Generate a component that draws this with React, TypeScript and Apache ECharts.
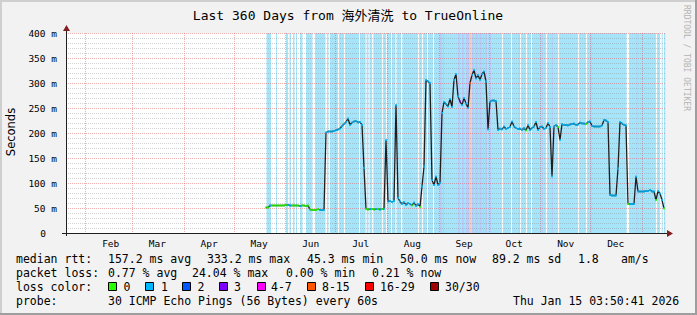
import React, { useEffect, useRef } from "react";
import * as echarts from "echarts";

// ---- time frame ----
const DAY = 86400000;
const END_TIME = Date.UTC(2026, 0, 15, 3, 50, 41);
const SPAN_DAYS = 360;
const START_TIME = END_TIME - SPAN_DAYS * DAY;
const DATA_START_DAY = 120; // days after START_TIME of first sample
const DATA_STEP_DAYS = 1.2;

// ---- median rtt (ms), one value per step ----
const medianRtt = [
  51, 51, 55, 55, 55, 55, 55, 55, 55, 55,
  56, 56, 55, 55, 55, 55, 55, 54, 55, 55,
  54, 55, 47, 46, 46, 46, 48, 46, 46, 46,
  201, 203, 203, 203, 204, 206, 207, 209, 214, 218,
  222, 229, 216, 221, 223, 224, 221, 222, 216, 130,
  48, 47, 48, 48, 47, 48, 48, 47, 48, 48,
  186, 63, 64, 62, 64, 256, 70, 63, 58, 62,
  56, 60, 58, 55, 61, 54, 58, 52, 93, 133,
  306, 303, 300, 106, 96, 113, 96, 100, 240, 262,
  258, 253, 268, 252, 306, 318, 273, 263, 256, 270,
  259, 250, 300, 316, 326, 309, 316, 306, 318, 323,
  303, 207, 263, 265, 265, 264, 206, 209, 207, 213,
  208, 210, 212, 223, 213, 210, 208, 209, 206, 210,
  205, 216, 206, 210, 213, 222, 206, 212, 213, 208,
  210, 220, 212, 113, 213, 216, 212, 186, 218, 216,
  216, 215, 217, 218, 219, 216, 217, 221, 219, 219,
  218, 222, 223, 214, 213, 213, 213, 213, 215, 226,
  225, 222, 76, 75, 75, 75, 129, 222, 219, 216,
  215, 58, 58, 58, 58, 113, 83, 83, 83, 83,
  84, 84, 86, 83, 83, 66, 84, 79, 66, 49,
];

// ---- packets lost (of 30) per step ----
const medianLoss = [
  0, 0, 1, 0, 0, 0, 0, 0, 0, 0,
  0, 1, 1, 0, 0, 0, 0, 1, 0, 0,
  0, 0, 0, 0, 0, 0, 0, 1, 1, 1,
  1, 1, 1, 1, 1, 1, 1, 1, 1, 1,
  1, 1, 1, 1, 1, 1, 1, 1, 1, 1,
  0, 0, 1, 0, 0, 1, 0, 1, 0, 1,
  1, 1, 1, 1, 1, 1, 1, 1, 1, 1,
  1, 1, 1, 0, 1, 1, 1, 0, 1, 1,
  1, 1, 1, 1, 1, 1, 1, 1, 1, 1,
  1, 1, 1, 1, 1, 1, 1, 3, 1, 1,
  1, 1, 8, 1, 1, 1, 1, 1, 1, 1,
  1, 1, 1, 1, 1, 1, 1, 1, 1, 1,
  1, 1, 1, 1, 1, 1, 1, 1, 1, 1,
  0, 1, 1, 1, 1, 1, 1, 1, 1, 1,
  1, 1, 1, 1, 1, 1, 0, 1, 1, 1,
  1, 1, 1, 1, 1, 1, 1, 1, 1, 1,
  0, 1, 1, 1, 1, 1, 1, 1, 1, 1,
  1, 1, 1, 1, 1, 1, 1, 1, 1, 1,
  1, 0, 1, 1, 1, 1, 1, 1, 1, 1,
  1, 1, 1, 1, 1, 0, 1, 1, 1, 0,
];

// ---- loss background periods (days after START_TIME), drawn in order ----
const bgFromDay = [
  120.3, 126.0, 132.0, 134.1, 136.2, 138.0, 140.4, 144.0, 149.4, 156.6, 158.4,
  163.2, 166.8, 175.8, 179.8, 181.5, 183.6, 189.6, 192.0, 195.0, 197.7, 201.0,
  211.2, 213.6, 216.6, 220.2, 261.6, 267.0, 272.4, 276.0, 279.0, 288.0, 295.2,
  307.2, 312.0, 336.4, 354.0, 356.4, 358.0,
  224.4, 226.2, 235.2, 237.6, 240.0, 242.4, 243.6, 245.4, 247.8, 250.2, 251.4,
  254.4, 271.8, 285.4, 291.4, 314.8, 342.3,
];
const bgToDay = [
  123.0, 126.6, 133.2, 135.0, 137.1, 138.6, 141.9, 147.9, 155.7, 157.5, 359.7,
  163.8, 167.4, 176.4, 180.4, 182.1, 184.4, 190.2, 192.6, 195.6, 198.3, 201.8,
  211.8, 214.2, 217.2, 220.8, 262.2, 267.6, 273.0, 276.6, 279.6, 288.6, 295.8,
  307.8, 312.6, 337.8, 354.6, 357.4, 358.8,
  225.6, 226.8, 236.4, 238.8, 241.8, 243.6, 244.8, 247.2, 249.6, 250.8, 252.6,
  255.0, 272.4, 286.0, 292.0, 315.4, 342.9,
];
const bgLoss = [
  1, 1, 1, 1, 1, 1, 1, 1, 1, 1, 1,
  0, 0, 0, 0, 0, 0, 0, 0, 0, 0, 0,
  0, 0, 0, 0, 0, 0, 0, 0, 0, 0, 0,
  0, 0, 0, 0, 0, 0,
  3, 3, 3, 3, 3, 8, 3, 3, 3, 3, 3,
  3, 3, 3, 3, 3, 3,
];

// ---- axis labels ----
const monthNames = ["Jan", "Feb", "Mar", "Apr", "May", "Jun", "Jul", "Aug", "Sep", "Oct", "Nov", "Dec"];
const gridMonths: [number, number][] = [
  [2025, 1], [2025, 2], [2025, 3], [2025, 4], [2025, 5], [2025, 6],
  [2025, 7], [2025, 8], [2025, 9], [2025, 10], [2025, 11], [2026, 0],
];
const labelMonths: [number, number][] = gridMonths.slice(0, 11);

// ---- legend texts ----
const rttStats = ["157.2 ms avg", "333.2 ms max", "45.3 ms min", "50.0 ms now", "89.2 ms sd", "1.8", "am/s"];
const lossStats = ["0.77 % avg", "24.04 % max", "0.00 % min", "0.21 % now"];
const lossLegend = ["0", "1", "2", "3", "4-7", "8-15", "16-29", "30/30"];
const lossLegendColors = ["#26ff00", "#00b8ff", "#0059ff", "#7e00ff", "#ff00ff", "#ff5500", "#ff0000", "#a10000"];

const lineColor = (l: number) =>
  l === 0 ? "#26ff00" : l === 1 ? "#00b8ff" : l === 2 ? "#0059ff" : l <= 3 ? "#7e00ff" : l <= 7 ? "#ff00ff" : l <= 15 ? "#ff5500" : "#ff0000";
const bgColor = (l: number) =>
  l === 0 ? "#ffffff" : l === 1 ? "#a6e4fa" : l <= 3 ? "#bccafb" : "#f3cdbd";

const MONO = "'DejaVu Sans Mono', 'Noto Sans CJK SC', monospace";

export default function App() {
  const ref = useRef<HTMLDivElement>(null);
  useEffect(() => {
    if (!ref.current) return;
    const chart = echarts.init(ref.current, undefined, { renderer: "svg" });
    const L = 66, T = 33, W = 600, H = 200;
    const times = medianRtt.map((_, i) => START_TIME + (DATA_START_DAY + DATA_STEP_DAYS * i) * DAY);
    const half = (DATA_STEP_DAYS / 2) * DAY;

    const graphics: any[] = [
      { type: "rect", shape: { x: 0, y: 0, width: 697, height: 2 }, style: { fill: "#cfcfcf" }, z: 100 },
      { type: "rect", shape: { x: 0, y: 0, width: 2, height: 315 }, style: { fill: "#cfcfcf" }, z: 100 },
      { type: "rect", shape: { x: 695, y: 0, width: 2, height: 315 }, style: { fill: "#9e9e9e" }, z: 100 },
      { type: "rect", shape: { x: 0, y: 313, width: 697, height: 2 }, style: { fill: "#9e9e9e" }, z: 100 },
      { type: "line", shape: { x1: L - 4, y1: T + H + 0.5, x2: L + W + 2, y2: T + H + 0.5 }, style: { stroke: "#1f1f1f", lineWidth: 1 }, z: 100 },
      { type: "polygon", shape: { points: [[L + W + 1, T + H - 3], [L + W + 7, T + H + 0.5], [L + W + 1, T + H + 4]] }, style: { fill: "#801f1f" }, z: 100 },
      { type: "line", shape: { x1: L + 0.5, y1: T + H + 3, x2: L + 0.5, y2: T - 2 }, style: { stroke: "#1f1f1f", lineWidth: 1 }, z: 100 },
      { type: "polygon", shape: { points: [[L - 3, T - 2], [L + 0.5, T - 8], [L + 4, T - 2]] }, style: { fill: "#801f1f" }, z: 100 },
      { type: "text", x: 348, y: 15, style: { text: "Last 360 Days from 海外清洗 to TrueOnline", font: `13px ${MONO}`, fill: "#000", align: "center", verticalAlign: "middle" }, z: 100 },
      { type: "text", x: 10.5, y: 132, rotation: Math.PI / 2, style: { text: "Seconds", font: "11.5px 'DejaVu Sans', sans-serif", fill: "#000", align: "center", verticalAlign: "middle" }, z: 100 },
      { type: "text", x: 686, y: 5, rotation: -Math.PI / 2, style: { text: "RRDTOOL / TOBI OETIKER", font: `8px ${MONO}`, fill: "#b4b4b4", align: "left", verticalAlign: "middle" }, z: 100 },
    ];
    const txt = (s: string, x: number, y: number) => ({
      type: "text", x, y, z: 100,
      style: { text: s, font: `11.5px ${MONO}`, fill: "#000", align: "left", verticalAlign: "middle" },
    });
    const r1 = 259, r2 = 273, r3 = 287, r4 = 301;
    graphics.push(txt("median rtt:", 16, r1));
    [108, 207, 307, 400, 492, 578, 621].forEach((x, i) => graphics.push(txt(rttStats[i], x, r1)));
    graphics.push(txt("packet loss:", 16, r2));
    [108, 192, 286, 372].forEach((x, i) => graphics.push(txt(lossStats[i], x, r2)));
    graphics.push(txt("loss color:", 16, r3));
    const boxX = [108.5, 145.5, 182.5, 219.5, 257.5, 307.5, 365.5, 430.5];
    const labX = [123.5, 161, 197.5, 234, 271, 322, 380, 445];
    boxX.forEach((x, i) => {
      graphics.push({ type: "rect", z: 100, shape: { x, y: r3 - 4.5, width: 8, height: 8 }, style: { fill: lossLegendColors[i], stroke: "#000", lineWidth: 1 } });
      graphics.push(txt(lossLegend[i], labX[i], r3));
    });
    graphics.push(txt("probe:", 16, r4));
    graphics.push(txt("30 ICMP Echo Pings (56 Bytes) every 60s", 108, r4));
    graphics.push(txt("Thu Jan 15 03:50:41 2026", 513, r4));

    chart.setOption({
      animation: false,
      backgroundColor: "#f2f2f2",
      grid: { left: L, top: T, width: W, height: H, show: true, backgroundColor: "#ffffff", borderWidth: 0 },
      xAxis: {
        type: "value",
        min: START_TIME,
        max: END_TIME,
        z: 3,
        axisLine: { show: false },
        axisTick: { show: false, customValues: gridMonths.map(([y, m]) => Date.UTC(y, m, 1)) },
        axisLabel: {
          customValues: labelMonths.map(([y, m]) => Date.UTC(y, m, 1) + 15 * DAY),
          formatter: (v: number) => monthNames[new Date(v).getUTCMonth()],
          fontFamily: "DejaVu Sans Mono",
          fontSize: 9.5,
          color: "#000",
          margin: 5,
          hideOverlap: false,
        },
        splitLine: { show: true, lineStyle: { color: "rgba(222,79,79,0.45)", type: [1, 1], width: 1 } },
      },
      yAxis: {
        type: "value",
        min: 0,
        max: 400,
        interval: 50,
        z: 3,
        axisLine: { show: false },
        axisTick: { show: false },
        axisLabel: {
          margin: 9,
          fontFamily: "DejaVu Sans Mono",
          fontSize: 9.5,
          color: "#000",
          formatter: (v: number) => (v === 0 ? "{z|0}" : `${v} m`),
          rich: { z: { padding: [0, 11, 0, 0], fontFamily: "DejaVu Sans Mono", fontSize: 9.5, color: "#000" } },
        },
        splitLine: { show: true, lineStyle: { color: "rgba(222,79,79,0.45)", type: [1, 1], width: 1 } },
        minorTick: { show: false, splitNumber: 5 },
        minorSplitLine: { show: true, lineStyle: { color: "rgba(143,143,143,0.4)", type: [1, 1], width: 1 } },
      },
      series: [
        {
          type: "custom",
          z: 1,
          silent: true,
          data: bgFromDay.map((f, i) => [START_TIME + f * DAY, START_TIME + bgToDay[i] * DAY, bgLoss[i]]),
          encode: { x: [0, 1], y: 2 },
          renderItem: (params: any, api: any) => {
            const p0 = api.coord([api.value(0), 400]);
            const p1 = api.coord([api.value(1), 0]);
            return {
              type: "rect",
              shape: { x: p0[0], y: p0[1], width: Math.max(1, p1[0] - p0[0]), height: p1[1] - p0[1] },
              style: { fill: bgColor(api.value(2)) },
            };
          },
        },
        {
          type: "line",
          z: 5,
          silent: true,
          showSymbol: false,
          data: medianRtt.map((v, i) => [times[i], v]),
          lineStyle: { color: "#1f1f1f", width: 1.3 },
        },
        {
          type: "custom",
          z: 6,
          silent: true,
          data: medianRtt.map((v, i) => [times[i], v, medianLoss[i]]),
          encode: { x: 0, y: 1 },
          renderItem: (params: any, api: any) => {
            const t = api.value(0), v = api.value(1);
            const a = api.coord([t - half * 0.8, v]);
            const b = api.coord([t + half * 0.8, v]);
            return {
              type: "line",
              shape: { x1: a[0], y1: a[1], x2: b[0], y2: b[1] },
              style: { stroke: lineColor(api.value(2)), lineWidth: 1.8 },
            };
          },
        },
      ],
      graphic: graphics,
    });
    return () => chart.dispose();
  }, []);
  return <div ref={ref} style={{ position: "fixed", left: 0, top: 0, width: 697, height: 315 }} />;
}
